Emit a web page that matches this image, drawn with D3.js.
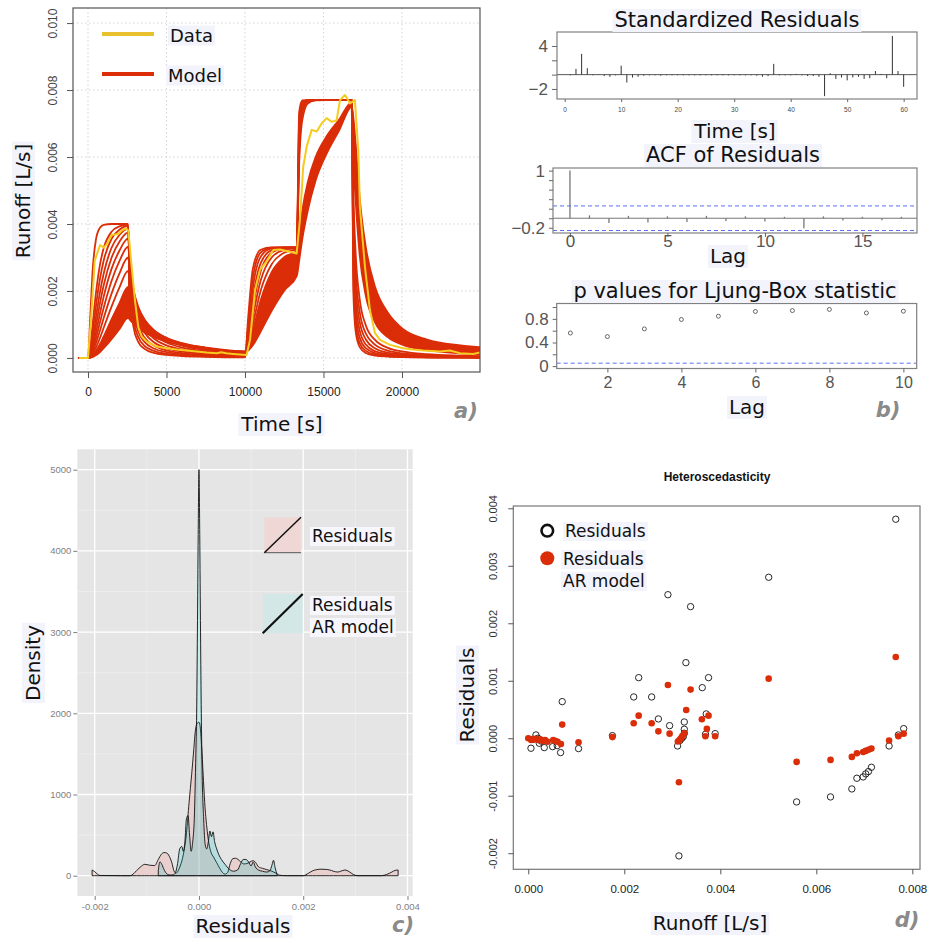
<!DOCTYPE html>
<html><head><meta charset="utf-8">
<script src="https://cdn.jsdelivr.net/npm/d3@7"></script>
<style>html,body{margin:0;padding:0;background:#fff}svg{display:block}</style>
</head><body>
<svg id="fig" width="927" height="938" xmlns="http://www.w3.org/2000/svg"></svg>
<script>
// ================= DATA =================
// ---- a) runoff time series (runoff values stored in 1e-5 L/s) ----
const timeTicks = [0, 5000, 10000, 15000, 20000];
const runoffTicks = [0, 0.002, 0.004, 0.006, 0.008, 0.010];
const modelTimes = [-600,0,150,300,500,750,1000,1500,2000,2550,2700,2900,3200,3600,4200,5000,6000,7500,10000,10200,10500,11000,11700,12500,13300,13450,13650,14000,14500,15200,16000,16800,16900,17050,17300,17700,18300,19100,20100,21600,23600,24970];
const run01 = [0,0,128,263,352,388,397,400,400,400,178,92,48,27,15,9,5.5,3.3,1.8,119,266,323,330,330,330,734,769,770,770,770,770,770,203,79,33,15,7.2,3.9,2.3,1.3,0.8,0.6];
const run02 = [0,0,35,102,191,275,328,377,393,398,204,113,63,36,21,12,7.7,4.6,2.6,95,238,315,329,330,330,703,764,770,770,770,770,770,249,104,45,21,10.2,5.5,3.3,1.9,1.1,0.9];
const run03 = [0,0,25,77,152,233,291,356,383,394,228,136,79,48,28,17,10.6,6.4,3.6,74,208,302,327,330,330,672,757,770,770,770,770,770,299,135,62,29,14.4,7.9,4.7,2.7,1.6,1.2];
const run04 = [0,0,18,57,120,193,252,329,367,386,247,159,98,61,37,22.5,14.4,8.8,5.0,58,176,283,322,329,330,631,740,768,770,770,770,770,352,172,83,40,20,11.2,6.7,3.9,2.3,1.8];
const run05 = [0,0,13,44,95,160,217,299,347,374,261,179,116,76,47,29.5,19.2,11.9,6.8,46,147,259,314,327,330,640,745,768,770,770,770,770,404,215,109,55,28,15.7,9.5,5.5,3.3,2.6];
const run06 = [0,0,10,33,74,130,183,266,320,356,266,194,133,90,58,37.5,24.8,15.6,9.0,38,121,231,300,323,328,610,730,765,770,770,770,770,454,261,140,73,39,22,13.4,7.9,4.8,3.6];
const run07 = [0,0,7,25,57,104,150,230,289,332,263,202,147,104,69,46,31,20,11.7,33,98,201,280,314,325,580,710,760,769,770,770,770,501,312,178,97,53,30,18.7,11.1,6.8,5.2];
const run08 = [0,0,5,18,43,80,119,192,252,300,249,201,153,113,78,54,37,24,14.5,29,81,172,256,301,319,370,440,525,600,662,712,763,600,470,310,185,105,62,38,23,14,11];
const run09 = [0,0,3,12,30,58,90,153,210,260,224,188,149,115,83,59,42,28,17,28,67,144,229,283,309,350,420,505,583,650,703,760,630,520,360,225,130,78,47,29,18,14.5];
const run10 = [0,0,2,8,20,40,64,115,163,212,189,163,135,108,81,60,44,30,18.8,26,56,120,199,259,293,330,400,485,565,635,695,757,660,560,400,260,155,95,58,36,23,19];
const run11 = [0,0,1,5,14,28,45,84,125,168,153,136,117,97,76,58,43,31,19.8,25,47,98,170,231,271,310,378,462,547,622,688,754,690,600,440,295,180,112,70,44,29,24];
const run12 = [0,0,1,3,8,17,29,56,86,120,112,102,89,76,62,49,38,28,18.5,22,38,79,141,201,245,290,355,440,530,610,680,750,720,640,480,330,210,135,85,55,38,32];
const dataTime = [-570,0,200,430,764,1019,1230,1510,1930,2145,2420,2570,2780,2990,3200,3420,3740,4375,5010,5650,6290,6920,7560,8200,8500,8800,9260,10100,10320,10640,10955,11380,11800,12230,12870,13290,13500,13710,13930,14250,14570,14880,15200,15520,15840,16050,16370,16690,17000,17220,17320,17640,17960,18280,18600,19240,20080,20700,21350,22420,23060,23700,24540,24970];
const dataRunoff = [0,0,120,290,337,329,342,367,370,380,387,380,273,173,93,64,49,34,29,25,22,19,16,14,17,14,12,9,54,203,263,288,322,324,317,312,412,571,631,681,676,700,716,705,710,770,785,760,770,620,450,273,143,74,54,39,29,25,22,19,22,14,12,16];

// ---- b) diagnostics ----
const stdResiduals = [-0.1,0.8,2.9,0.9,-0.1,0.05,-0.2,-0.3,-0.1,1.25,-1.1,-0.4,-0.3,-0.15,-0.1,-0.1,-0.15,-0.1,-0.1,-0.1,-0.1,-0.1,-0.1,-0.1,-0.1,-0.1,-0.1,-0.1,-0.1,-0.1,-0.1,-0.1,-0.1,-0.15,-0.3,-0.2,1.5,-0.1,-0.1,-0.1,0.1,-0.1,-0.2,-0.2,-0.3,-3.0,0.2,-0.6,-0.4,-0.8,-0.4,-0.3,-0.6,-0.5,0.5,0.1,-0.5,5.4,0.5,-1.7];
const stdResTimeTicks = [0,10,20,30,40,50,60];
const acfLag = [0,1,2,3,4,5,6,7,8,9,10,11,12,13,14,15,16,17];
const acfValue = [1,0.06,-0.10,0.05,-0.09,0.04,-0.08,0.05,-0.06,0.04,-0.07,0.03,-0.21,0.04,-0.05,0.03,-0.04,0.03];
const acfBound = [0.258,-0.258];
const lbLag = [1,2,3,4,5,6,7,8,9,10];
const lbPValue = [0.56,0.50,0.63,0.79,0.845,0.925,0.94,0.96,0.90,0.93];

// ---- c) densities (x in 1e-3 L/s) ----
const residDensX = [-2.05,-2.0,-1.95,-1.9,-1.5,-1.32,-1.2,-1.1,-1.04,-0.95,-0.85,-0.78,-0.72,-0.67,-0.62,-0.57,-0.52,-0.48,-0.44,-0.4,-0.36,-0.3,-0.24,-0.19,-0.14,-0.1,-0.07,-0.03,0,0.02,0.05,0.08,0.11,0.15,0.19,0.23,0.28,0.34,0.4,0.45,0.5,0.55,0.6,0.65,0.7,0.75,0.8,0.86,0.92,0.98,1.04,1.09,1.14,1.22,1.3,1.4,1.48,1.55,1.7,2.0,2.1,2.18,2.26,2.34,2.42,2.5,2.58,2.66,2.72,2.8,2.88,2.96,3.05,3.5,3.6,3.7,3.76,3.82];
const residDensY = [70,50,20,3,0,0,60,120,140,130,125,200,265,285,280,240,160,60,30,60,120,260,520,900,1250,1550,1780,1880,1890,1850,1600,1250,900,600,400,290,230,160,90,40,20,40,150,210,215,200,170,145,150,170,185,160,110,90,75,55,30,5,0,0,30,60,75,80,78,72,55,45,55,70,50,15,0,0,15,45,65,70];
const arDensX = [-0.78,-0.75,-0.72,-0.68,-0.64,-0.6,-0.55,-0.5,-0.45,-0.41,-0.37,-0.33,-0.3,-0.27,-0.24,-0.21,-0.18,-0.15,-0.12,-0.09,-0.06,-0.045,-0.03,-0.015,0,0.015,0.03,0.045,0.06,0.09,0.12,0.15,0.18,0.21,0.24,0.27,0.3,0.34,0.38,0.43,0.5,0.58,0.66,0.74,0.8,0.85,0.9,0.95,1.0,1.04,1.08,1.14,1.22,1.3,1.36,1.4,1.43,1.46,1.5];
const arDensY = [60,170,150,90,40,15,8,10,40,150,330,360,300,420,700,740,500,300,420,700,1500,2000,3000,4200,5000,4200,3000,2000,1300,700,380,330,420,550,480,540,420,330,260,200,140,80,55,70,150,200,200,170,120,170,110,70,55,45,60,130,190,100,10];
const densXTicks = [-0.002,0,0.002,0.004];
const densYTicks = [0,1000,2000,3000,4000,5000];

// ---- d) heteroscedasticity (x, y in 1e-3 L/s) ----
const residRunoff = [7.655,5.008,2.909,3.381,3.283,2.30,3.755,3.624,2.196,2.57,0.707,2.71,2.944,3.25,3.25,3.25,3.707,3.692,3.893,1.753,3.11,3.16,0.16,0.056,0.229,0.333,0.507,0.603,0.673,1.047,5.59,6.296,6.74,6.845,6.976,7.03,7.086,7.148,7.516,7.709,7.82,3.138,0.1,0.27,0.2,3.2,3.23];
const residValue  = [3.81,2.80,2.497,2.289,1.315,1.054,1.054,0.88,0.718,0.718,0.637,0.336,0.219,0.283,0.156,0.087,0.423,0.07,0.08,0.045,-0.134,-0.04,0.057,-0.174,-0.087,-0.163,-0.146,-0.128,-0.25,-0.18,-1.108,-1.021,-0.882,-0.696,-0.673,-0.62,-0.58,-0.505,-0.134,0.057,0.167,-2.047,-0.02,-0.05,0.0,0.0,0.03];
const arRunoff = [7.655,5.008,2.909,3.381,0.0,0.06,0.1,0.15,0.2,0.25,0.3,0.35,0.4,0.52,0.57,0.61,0.68,0.707,1.047,1.753,2.196,2.30,2.57,2.71,2.944,3.117,3.15,3.18,3.21,3.25,3.29,3.138,3.616,3.755,3.72,3.69,3.893,5.59,6.296,6.74,6.845,6.976,7.03,7.086,7.148,7.516,7.709,7.82];
const arValue  = [1.414,1.037,0.927,0.846,0.0,-0.03,-0.02,-0.01,-0.03,-0.02,-0.05,-0.03,-0.06,-0.03,-0.05,-0.06,-0.1,0.237,-0.07,0.02,0.26,0.393,0.26,0.12,0.08,-0.058,-0.03,0.0,0.04,0.087,0.492,-0.766,0.33,0.393,0.162,0.035,0.035,-0.412,-0.377,-0.325,-0.261,-0.24,-0.22,-0.2,-0.18,-0.04,0.035,0.08];
const hetXTicks = [0,0.002,0.004,0.006,0.008];
const hetYTicks = [-0.002,-0.001,0,0.001,0.002,0.003,0.004];

// ================= DRAWING =================
const svg = d3.select("#fig");
const BIG = "DejaVu Sans", TICK = "Liberation Sans", BG = "#f3f3fc";
const RED = "#da2d08", YEL = "#f6cb1f";

function label(parent, txt, x, y, size, o = {}) {
  const g = parent.append("g").attr("transform", `translate(${x},${y}) rotate(${o.rotate || 0})`);
  const t = g.append("text").text(txt).attr("font-family", o.family || BIG).attr("font-size", size)
    .attr("text-anchor", o.anchor || "middle").attr("dominant-baseline", "central").attr("fill", o.fill || "#111");
  if (o.bold) t.attr("font-weight", "bold");
  if (o.italic) t.attr("font-style", "italic");
  if (o.bg !== false) {
    const b = t.node().getBBox();
    g.insert("rect", "text").attr("x", b.x - 2).attr("y", b.y + 1).attr("width", b.width + 4).attr("height", b.height - 1).attr("fill", o.bg || BG);
  }
  return g;
}
function styleAxis(g, family, size, color, tickColor) {
  g.select(".domain").remove();
  g.selectAll(".tick line").attr("stroke", tickColor || "#333");
  g.selectAll(".tick text").attr("font-family", family).attr("font-size", size).attr("fill", color);
}
function rotYLabels(g, off) {
  g.selectAll(".tick text").attr("x", null).attr("dy", null).attr("text-anchor", "middle")
    .attr("dominant-baseline", "central").attr("transform", `translate(${off},0) rotate(-90)`);
}

// ---------- Panel a ----------
const gA = svg.append("g");
const xA = d3.scaleLinear().domain([-955, 24970]).range([73, 480]);
const yA = d3.scaleLinear().domain([-0.00042, 0.01045]).range([372, 8]);
svg.append("clipPath").attr("id", "clipA").append("rect").attr("x", 73).attr("y", 8).attr("width", 407).attr("height", 364);
gA.selectAll(".gx").data(timeTicks).join("line").attr("x1", d => xA(d)).attr("x2", d => xA(d)).attr("y1", 8).attr("y2", 372)
  .attr("stroke", "#d4d4d4").attr("stroke-dasharray", "1.5,2.5");
gA.selectAll(".gy").data(runoffTicks).join("line").attr("y1", d => yA(d)).attr("y2", d => yA(d)).attr("x1", 73).attr("x2", 480)
  .attr("stroke", "#d4d4d4").attr("stroke-dasharray", "1.5,2.5");
const modelRuns = [run12, run11, run10, run09, run08, run07, run06, run05, run04, run03, run02, run01];
const lineModel = d3.line().x((d, i) => xA(modelTimes[i])).y(d => yA(d * 1e-5)).curve(d3.curveMonotoneX);
const gM = gA.append("g").attr("clip-path", "url(#clipA)");
// dense core of the ensemble: band between the slowest runs
const coreSlow = d3.area().x((d, i) => xA(modelTimes[i])).y0((d, i) => yA(run12[i] * 1e-5)).y1(d => yA(d * 1e-5)).curve(d3.curveMonotoneX);
gM.append("path").attr("d", coreSlow(run10)).attr("fill", RED);
const coreMid = d3.area().defined((d, i) => modelTimes[i] >= 2550).x((d, i) => xA(modelTimes[i])).y0((d, i) => yA(run10[i] * 1e-5)).y1(d => yA(d * 1e-5)).curve(d3.curveMonotoneX);
gM.append("path").attr("d", coreMid(run08)).attr("fill", RED);
modelRuns.forEach(r => gM.append("path").attr("d", lineModel(r)).attr("fill", "none").attr("stroke", RED).attr("stroke-width", 1.8));
const lineData = d3.line().x((d, i) => xA(dataTime[i])).y(d => yA(d * 1e-5));
gM.append("path").attr("d", lineData(dataRunoff)).attr("fill", "none").attr("stroke", YEL).attr("stroke-width", 2).attr("stroke-linejoin", "round");
gA.append("rect").attr("x", 73).attr("y", 8).attr("width", 407).attr("height", 364).attr("fill", "none").attr("stroke", "#555").attr("stroke-width", 1.2);
const ayA = gA.append("g").attr("transform", "translate(73,0)").call(d3.axisLeft(yA).tickValues(runoffTicks).tickSize(6).tickFormat(d3.format(".3f")));
styleAxis(ayA, TICK, 12, "#444", "#555"); rotYLabels(ayA, -20);
const axA = gA.append("g").attr("transform", "translate(0,372)").call(d3.axisBottom(xA).tickValues(timeTicks).tickSize(6).tickFormat(d3.format("d")));
styleAxis(axA, TICK, 12, "#222", "#555"); axA.selectAll(".tick text").attr("y", 15);
// legend
gA.append("line").attr("x1", 102).attr("x2", 154).attr("y1", 34).attr("y2", 34).attr("stroke", "#e8c030").attr("stroke-width", 4);
gA.append("line").attr("x1", 102).attr("x2", 154).attr("y1", 74).attr("y2", 74).attr("stroke", RED).attr("stroke-width", 4);
label(gA, "Data", 170, 35, 18, { anchor: "start" });
label(gA, "Model", 168, 75, 18, { anchor: "start" });
label(gA, "Runoff [L/s]", 23, 201, 20, { rotate: -90 });
label(gA, "Time [s]", 282, 424, 20);
label(gA, "a)", 466, 411, 21, { bold: true, italic: true, fill: "#8a8a8a", bg: false });

// ---------- Panel b ----------
const gB = svg.append("g");
// b1 standardized residuals
const x1 = d3.scaleLinear().domain([-1.36, 62.36]).range([557, 917]);
const y1 = d3.scaleLinear().domain([-3.4, 5.95]).range([99, 32]);
gB.append("line").attr("x1", 557).attr("x2", 917).attr("y1", y1(0)).attr("y2", y1(0)).attr("stroke", "#444").attr("stroke-width", 0.9);
gB.selectAll(".sr").data(stdResiduals).join("line").attr("x1", (d, i) => x1(i + 1)).attr("x2", (d, i) => x1(i + 1))
  .attr("y1", y1(0)).attr("y2", d => y1(d)).attr("stroke", "#333").attr("stroke-width", 1);
gB.append("rect").attr("x", 557).attr("y", 32).attr("width", 360).attr("height", 67).attr("fill", "none").attr("stroke", "#808080").attr("stroke-width", 1.2);
const ay1 = gB.append("g").attr("transform", "translate(557,0)").call(d3.axisLeft(y1).tickValues([-2, 0, 2, 4]).tickSize(5).tickFormat(d => (d === 4 || d === -2) ? d3.format("d")(d) : ""));
styleAxis(ay1, TICK, 17, "#555", "#666"); ay1.selectAll(".tick text").attr("x", -9);
const ax1 = gB.append("g").attr("transform", "translate(0,99)").call(d3.axisBottom(x1).tickValues(stdResTimeTicks).tickSize(3));
styleAxis(ax1, TICK, 6.5, "#444", "#666"); ax1.selectAll(".tick text").attr("y", 8);
label(gB, "Standardized Residuals", 737, 20, 21);
label(gB, "Time [s]", 735, 131, 20);
// b2 ACF
const x2 = d3.scaleLinear().domain([-0.87, 17.8]).range([553, 917]);
const y2 = d3.scaleLinear().domain([-0.31, 1.055]).range([233, 168]);
gB.append("line").attr("x1", 553).attr("x2", 917).attr("y1", y2(0)).attr("y2", y2(0)).attr("stroke", "#777").attr("stroke-width", 1);
gB.selectAll(".ab").data(acfBound).join("line").attr("x1", 553).attr("x2", 917).attr("y1", d => y2(d)).attr("y2", d => y2(d))
  .attr("stroke", "#5b6ff0").attr("stroke-width", 1).attr("stroke-dasharray", "4,3");
gB.selectAll(".acf").data(acfValue).join("line").attr("x1", (d, i) => x2(acfLag[i])).attr("x2", (d, i) => x2(acfLag[i]))
  .attr("y1", y2(0)).attr("y2", d => y2(d)).attr("stroke", "#777").attr("stroke-width", 1.3);
gB.append("rect").attr("x", 553).attr("y", 168).attr("width", 364).attr("height", 65).attr("fill", "none").attr("stroke", "#808080").attr("stroke-width", 1.2);
const ay2 = gB.append("g").attr("transform", "translate(553,0)").call(d3.axisLeft(y2).tickValues([-0.2, 0, 0.2, 0.4, 0.6, 0.8, 1]).tickSize(4).tickFormat(d => d === 1 ? "1" : (d === -0.2 ? "\u22120.2" : "")));
styleAxis(ay2, TICK, 17, "#555", "#666"); ay2.selectAll(".tick text").attr("x", -8);
const ax2 = gB.append("g").attr("transform", "translate(0,233)").call(d3.axisBottom(x2).tickValues([0, 5, 10, 15]).tickSize(4));
styleAxis(ax2, TICK, 17, "#555", "#666"); ax2.selectAll(".tick text").attr("y", 2);
label(gB, "ACF of Residuals", 733, 155, 21);
label(gB, "Lag", 728, 256, 20);
// b3 Ljung-Box
const x3 = d3.scaleLinear().domain([0.63, 10.36]).range([556.7, 916.7]);
const y3 = d3.scaleLinear().domain([-0.04, 1.06]).range([368.5, 303.5]);
gB.append("line").attr("x1", 556.7).attr("x2", 916.7).attr("y1", y3(0.05)).attr("y2", y3(0.05)).attr("stroke", "#5b6ff0").attr("stroke-width", 1).attr("stroke-dasharray", "4,3");
gB.selectAll(".lb").data(lbPValue).join("circle").attr("cx", (d, i) => x3(lbLag[i])).attr("cy", d => y3(d)).attr("r", 2)
  .attr("fill", "none").attr("stroke", "#444").attr("stroke-width", 0.8);
gB.append("rect").attr("x", 556.7).attr("y", 303.5).attr("width", 360).attr("height", 65).attr("fill", "none").attr("stroke", "#808080").attr("stroke-width", 1.2);
const ay3 = gB.append("g").attr("transform", "translate(556.7,0)").call(d3.axisLeft(y3).tickValues([0, 0.2, 0.4, 0.6, 0.8, 1]).tickSize(4).tickFormat(d => (d === 0 ? "0" : (d === 0.4 || d === 0.8) ? d3.format(".1f")(d) : "")));
styleAxis(ay3, TICK, 17, "#555", "#666"); ay3.selectAll(".tick text").attr("x", -8);
const ax3 = gB.append("g").attr("transform", "translate(0,368.5)").call(d3.axisBottom(x3).tickValues([2, 4, 6, 8, 10]).tickSize(4));
styleAxis(ax3, TICK, 16, "#555", "#666"); ax3.selectAll(".tick text").attr("y", 8);
label(gB, "p values for Ljung-Box statistic", 735, 291, 21);
label(gB, "Lag", 747, 407, 20);
label(gB, "b)", 888, 410, 21, { bold: true, italic: true, fill: "#8a8a8a", bg: false });

// ---------- Panel c ----------
const gC = svg.append("g");
const xC = d3.scaleLinear().domain([-0.002334, 0.0041]).range([77.3, 412.7]);
const yC = d3.scaleLinear().domain([-250, 5251]).range([896, 449.3]);
gC.append("rect").attr("x", 77.3).attr("y", 449.3).attr("width", 335.4).attr("height", 446.7).attr("fill", "#e5e5e5");
const minorX = [-0.001, 0.001, 0.003], minorY = [500, 1500, 2500, 3500, 4500];
gC.selectAll(".mx").data(minorX).join("line").attr("x1", d => xC(d)).attr("x2", d => xC(d)).attr("y1", 449.3).attr("y2", 896).attr("stroke", "#f2f2f2").attr("stroke-width", 0.6);
gC.selectAll(".my").data(minorY).join("line").attr("y1", d => yC(d)).attr("y2", d => yC(d)).attr("x1", 77.3).attr("x2", 412.7).attr("stroke", "#f2f2f2").attr("stroke-width", 0.6);
gC.selectAll(".Mx").data(densXTicks).join("line").attr("x1", d => xC(d)).attr("x2", d => xC(d)).attr("y1", 449.3).attr("y2", 896).attr("stroke", "#fff").attr("stroke-width", 1.3);
gC.selectAll(".My").data(densYTicks).join("line").attr("y1", d => yC(d)).attr("y2", d => yC(d)).attr("x1", 77.3).attr("x2", 412.7).attr("stroke", "#fff").attr("stroke-width", 1.3);
const areaR = d3.area().x((d, i) => xC(residDensX[i] * 1e-3)).y0(yC(0)).y1(d => yC(d)).curve(d3.curveMonotoneX);
const areaAR = d3.area().x((d, i) => xC(arDensX[i] * 1e-3)).y0(yC(0)).y1(d => yC(d)).curve(d3.curveMonotoneX);
gC.append("path").attr("d", areaR(residDensY) + "Z").attr("fill", "#F8766D").attr("fill-opacity", 0.2).attr("stroke", "#111").attr("stroke-width", 0.9);
gC.append("path").attr("d", areaAR(arDensY) + "Z").attr("fill", "#00BFC4").attr("fill-opacity", 0.2).attr("stroke", "#111").attr("stroke-width", 0.9);
const ayC = gC.append("g").attr("transform", "translate(77.3,0)").call(d3.axisLeft(yC).tickValues(densYTicks).tickSize(4).tickFormat(d3.format("d")));
styleAxis(ayC, TICK, 9.5, "#7f7f7f", "#7f7f7f"); ayC.selectAll(".tick text").attr("x", -6);
const axC = gC.append("g").attr("transform", "translate(0,896)").call(d3.axisBottom(xC).tickValues(densXTicks).tickSize(4).tickFormat(d => d.toFixed(3)));
styleAxis(axC, TICK, 9.5, "#7f7f7f", "#7f7f7f"); axC.selectAll(".tick text").attr("y", 7);
// legend
gC.append("rect").attr("x", 264.3).attr("y", 517.3).attr("width", 36.7).attr("height", 35.4).attr("fill", "#eed7d5");
gC.append("line").attr("x1", 264.3).attr("x2", 301).attr("y1", 552.7).attr("y2", 552.7).attr("stroke", "#555").attr("stroke-width", 1);
gC.append("line").attr("x1", 264.3).attr("x2", 301).attr("y1", 552.7).attr("y2", 517.3).attr("stroke", "#111").attr("stroke-width", 1.5);
gC.append("rect").attr("x", 262.7).attr("y", 594).attr("width", 40).attr("height", 39.3).attr("fill", "#d3e7e6");
gC.append("line").attr("x1", 262.7).attr("x2", 302.7).attr("y1", 633.3).attr("y2", 594).attr("stroke", "#111").attr("stroke-width", 2.2);
label(gC, "Residuals", 312, 536, 17, { anchor: "start", bg: "#f6f6fc" });
label(gC, "Residuals", 312, 605, 17, { anchor: "start", bg: "#f6f6fc" });
label(gC, "AR model", 312, 627, 17, { anchor: "start", bg: "#f6f6fc" });
label(gC, "Density", 33, 663, 20, { rotate: -90 });
label(gC, "Residuals", 243, 926, 20);
label(gC, "c)", 403, 925, 21, { bold: true, italic: true, fill: "#8a8a8a", bg: false });

// ---------- Panel d ----------
const gD = svg.append("g");
const xD = d3.scaleLinear().domain([-0.000312, 0.00816]).range([513.3, 920]);
const yD = d3.scaleLinear().domain([-0.00228, 0.00404]).range([869.3, 506]);
gD.selectAll(".rp").data(residValue).join("circle").attr("cx", (d, i) => xD(residRunoff[i] * 1e-3)).attr("cy", d => yD(d * 1e-3)).attr("r", 3.2)
  .attr("fill", "none").attr("stroke", "#111").attr("stroke-width", 0.9);
gD.selectAll(".ap").data(arValue).join("circle").attr("cx", (d, i) => xD(arRunoff[i] * 1e-3)).attr("cy", d => yD(d * 1e-3)).attr("r", 3.3)
  .attr("fill", RED);
gD.append("rect").attr("x", 513.3).attr("y", 506).attr("width", 406.7).attr("height", 363.3).attr("fill", "none").attr("stroke", "#777").attr("stroke-width", 1.2);
const ayD = gD.append("g").attr("transform", "translate(513.3,0)").call(d3.axisLeft(yD).tickValues(hetYTicks).tickSize(5).tickFormat(d => d.toFixed(3)));
styleAxis(ayD, TICK, 11, "#333", "#555"); rotYLabels(ayD, -20);
const axD = gD.append("g").attr("transform", "translate(0,869.3)").call(d3.axisBottom(xD).tickValues(hetXTicks).tickSize(5).tickFormat(d => d.toFixed(3)));
styleAxis(axD, TICK, 11.5, "#222", "#555"); axD.selectAll(".tick text").attr("y", 16);
label(gD, "Heteroscedasticity", 717, 477, 12, { family: "Liberation Sans", bold: true, bg: false });
gD.append("circle").attr("cx", 547.3).attr("cy", 530.7).attr("r", 5.8).attr("fill", "none").attr("stroke", "#111").attr("stroke-width", 2.6);
gD.append("circle").attr("cx", 547.3).attr("cy", 558.3).attr("r", 7).attr("fill", RED);
label(gD, "Residuals", 565, 531, 17, { anchor: "start" });
label(gD, "Residuals", 563, 559, 17, { anchor: "start" });
label(gD, "AR model", 563, 581, 17, { anchor: "start" });
label(gD, "Residuals", 467, 695, 20, { rotate: -90 });
label(gD, "Runoff [L/s]", 710, 923, 20);
label(gD, "d)", 907, 920, 21, { bold: true, italic: true, fill: "#8a8a8a", bg: false });
</script>
</body></html>
